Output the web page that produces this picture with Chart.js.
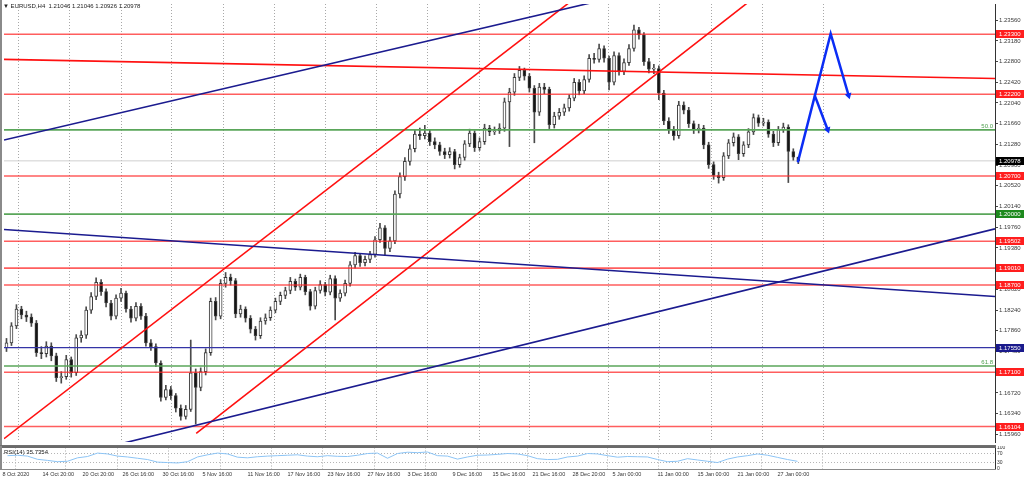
<!DOCTYPE html>
<html>
<head>
<meta charset="utf-8">
<script src="https://cdn.jsdelivr.net/npm/chart.js@4/dist/chart.umd.min.js"></script>
<style>
  body { margin: 0; background: #fff; width: 1024px; height: 480px; overflow: hidden; position: relative; }
  canvas { position: absolute; left: 0; }
  #mainChart { top: 0; }
  #rsiChart { top: 446px; }
  .lbl { position: absolute; font-family: 'Liberation Sans', Arial, sans-serif; font-size: 6px; color: #222; white-space: pre; }
</style>
</head>
<body>
<canvas id="mainChart" width="1024" height="446"></canvas>
<canvas id="rsiChart" width="1024" height="34"></canvas>
<div class="lbl" style="left:3px;top:3px">▼ EURUSD,H4  1.21046 1.21046 1.20926 1.20978</div>
<div class="lbl" style="left:4px;top:449px">RSI(14) 35.7354</div>
<script>
// EURUSD H4, one candle per slot
const opens = [
  1.1755, 1.1764, 1.1795, 1.1826, 1.1815, 1.1811, 1.1800, 1.1746, 1.1744, 1.1758,
  1.1740, 1.1700, 1.1702, 1.1733, 1.1709, 1.1773, 1.1778, 1.1824, 1.1849, 1.1875,
  1.1858, 1.1837, 1.1813, 1.1846, 1.1855, 1.1826, 1.1809, 1.1831, 1.1813, 1.1764,
  1.1757, 1.1727, 1.1664, 1.1678, 1.1667, 1.1644, 1.1629, 1.1642, 1.1709, 1.1682,
  1.1711, 1.1746, 1.1840, 1.1813, 1.1873, 1.1884, 1.1878, 1.1817, 1.1826, 1.1809,
  1.1789, 1.1777, 1.1804, 1.1810, 1.1824, 1.1840, 1.1851, 1.1860, 1.1877, 1.1866,
  1.1884, 1.1858, 1.1831, 1.1860, 1.1871, 1.1857, 1.1882, 1.1846, 1.1855, 1.1873,
  1.1907, 1.1924, 1.1911, 1.1917, 1.1926, 1.1953, 1.1975, 1.1937, 1.1951, 1.2037,
  1.2069, 1.2097, 1.2120, 1.2147, 1.2144, 1.2149, 1.2133, 1.2127, 1.2115, 1.2109,
  1.2115, 1.2091, 1.2104, 1.2129, 1.2149, 1.2122, 1.2133, 1.2158, 1.2151, 1.2153,
  1.2158, 1.2206, 1.2224, 1.2251, 1.2264, 1.2253, 1.2231, 1.2187, 1.2233, 1.2229,
  1.2164, 1.2180, 1.2187, 1.2195, 1.2213, 1.2242, 1.2226, 1.2247, 1.2286, 1.2284,
  1.2304, 1.2286, 1.2242, 1.2291, 1.2262, 1.2278, 1.2304, 1.2338, 1.2329, 1.2280,
  1.2266, 1.2267, 1.2222, 1.2171, 1.2155, 1.2144, 1.2200, 1.2191, 1.2166, 1.2155,
  1.2158, 1.2127, 1.2091, 1.2071, 1.2067, 1.2107, 1.2131, 1.2142, 1.2111, 1.2127,
  1.2151, 1.2177, 1.2167, 1.2169, 1.2147, 1.2131, 1.2155, 1.2160, 1.2115, 1.21046
];
const highs = [
  1.1772, 1.1801, 1.1834, 1.1831, 1.1822, 1.1817, 1.1805, 1.1757, 1.1766, 1.1764,
  1.1745, 1.1711, 1.1741, 1.1738, 1.1779, 1.1786, 1.1830, 1.1856, 1.1883, 1.1880,
  1.1863, 1.1842, 1.1852, 1.1864, 1.1859, 1.1831, 1.1838, 1.1836, 1.1818, 1.1770,
  1.1762, 1.1731, 1.1686, 1.1684, 1.1671, 1.1650, 1.1649, 1.1769, 1.1716, 1.1718,
  1.1753, 1.1846, 1.1847, 1.1880, 1.1893, 1.1890, 1.1882, 1.1833, 1.1830, 1.1814,
  1.1794, 1.1810, 1.1817, 1.1830, 1.1846, 1.1857, 1.1866, 1.1884, 1.1881, 1.1890,
  1.1888, 1.1862, 1.1866, 1.1878, 1.1875, 1.1888, 1.1887, 1.1861, 1.1879, 1.1913,
  1.1930, 1.1928, 1.1923, 1.1932, 1.1959, 1.1983, 1.1979, 1.1958, 1.2043, 1.2076,
  1.2104, 1.2127, 1.2155, 1.2158, 1.2163, 1.2154, 1.2140, 1.2132, 1.2121, 1.2122,
  1.2119, 1.2110, 1.2135, 1.2156, 1.2153, 1.2140, 1.2165, 1.2163, 1.2160, 1.2166,
  1.2213, 1.2231, 1.2258, 1.2271, 1.2268, 1.2258, 1.2236, 1.2240, 1.2240, 1.2233,
  1.2187, 1.2194, 1.2202, 1.2219, 1.2249, 1.2247, 1.2254, 1.2293, 1.2295, 1.2312,
  1.2309, 1.2290, 1.2298, 1.2296, 1.2285, 1.2311, 1.2347, 1.2343, 1.2333, 1.2286,
  1.2275, 1.2272, 1.2227, 1.2177, 1.2161, 1.2207, 1.2206, 1.2196, 1.2171, 1.2165,
  1.2163, 1.2132, 1.2096, 1.2077, 1.2113, 1.2137, 1.2149, 1.2146, 1.2133, 1.2157,
  1.2184, 1.2182, 1.2176, 1.2173, 1.2152, 1.2161, 1.2167, 1.2164, 1.2120, 1.21046
];
const lows = [
  1.1748, 1.1759, 1.1790, 1.1808, 1.1803, 1.1794, 1.1739, 1.1735, 1.1738, 1.1731,
  1.1693, 1.1690, 1.1697, 1.1701, 1.1704, 1.1765, 1.1772, 1.1818, 1.1843, 1.1851,
  1.1830, 1.1806, 1.1808, 1.1840, 1.1820, 1.1802, 1.1804, 1.1807, 1.1758, 1.1750,
  1.1720, 1.1657, 1.1659, 1.1660, 1.1637, 1.1622, 1.1624, 1.1638, 1.1615, 1.1676,
  1.1705, 1.1741, 1.1806, 1.1808, 1.1866, 1.1870, 1.1810, 1.1811, 1.1802, 1.1782,
  1.1769, 1.1772, 1.1798, 1.1805, 1.1819, 1.1834, 1.1845, 1.1854, 1.1860, 1.1861,
  1.1852, 1.1824, 1.1826, 1.1855, 1.1850, 1.1852, 1.1806, 1.1840, 1.1850, 1.1868,
  1.1901, 1.1904, 1.1905, 1.1911, 1.1921, 1.1948, 1.1924, 1.1931, 1.1946, 1.2030,
  1.2062, 1.2090, 1.2114, 1.2137, 1.2138, 1.2126, 1.2120, 1.2108, 1.2102, 1.2103,
  1.2083, 1.2086, 1.2099, 1.2124, 1.2115, 1.2117, 1.2128, 1.2144, 1.2146, 1.2148,
  1.2152, 1.2124, 1.2218, 1.2245, 1.2246, 1.2224, 1.2131, 1.2181, 1.2221, 1.2157,
  1.2158, 1.2174, 1.2181, 1.2189, 1.2208, 1.2219, 1.2221, 1.2242, 1.2277, 1.2279,
  1.2279, 1.2228, 1.2237, 1.2255, 1.2256, 1.2273, 1.2299, 1.2321, 1.2273, 1.2259,
  1.2258, 1.2210, 1.2164, 1.2148, 1.2136, 1.2139, 1.2184, 1.2159, 1.2148, 1.2149,
  1.2120, 1.2084, 1.2064, 1.2057, 1.2062, 1.2102, 1.2125, 1.2100, 1.2106, 1.2122,
  1.2146, 1.2161, 1.2162, 1.2141, 1.2124, 1.2126, 1.2150, 1.2058, 1.2099, 1.20926
];
const closes = [
  1.1764, 1.1795, 1.1826, 1.1815, 1.1811, 1.1800, 1.1746, 1.1744, 1.1758, 1.1740,
  1.1700, 1.1702, 1.1733, 1.1709, 1.1773, 1.1778, 1.1824, 1.1849, 1.1875, 1.1858,
  1.1837, 1.1813, 1.1846, 1.1855, 1.1826, 1.1809, 1.1831, 1.1813, 1.1764, 1.1757,
  1.1727, 1.1664, 1.1678, 1.1667, 1.1644, 1.1629, 1.1642, 1.1709, 1.1682, 1.1711,
  1.1746, 1.1840, 1.1813, 1.1873, 1.1884, 1.1878, 1.1817, 1.1826, 1.1809, 1.1789,
  1.1777, 1.1804, 1.1810, 1.1824, 1.1840, 1.1851, 1.1860, 1.1877, 1.1866, 1.1884,
  1.1858, 1.1831, 1.1860, 1.1871, 1.1857, 1.1882, 1.1846, 1.1855, 1.1873, 1.1907,
  1.1924, 1.1911, 1.1917, 1.1926, 1.1953, 1.1975, 1.1937, 1.1951, 1.2037, 1.2069,
  1.2097, 1.2120, 1.2147, 1.2144, 1.2149, 1.2133, 1.2127, 1.2115, 1.2109, 1.2115,
  1.2091, 1.2104, 1.2129, 1.2149, 1.2122, 1.2133, 1.2158, 1.2151, 1.2153, 1.2158,
  1.2206, 1.2224, 1.2251, 1.2264, 1.2253, 1.2231, 1.2187, 1.2233, 1.2229, 1.2164,
  1.2180, 1.2187, 1.2195, 1.2213, 1.2242, 1.2226, 1.2247, 1.2286, 1.2284, 1.2304,
  1.2286, 1.2242, 1.2291, 1.2262, 1.2278, 1.2304, 1.2338, 1.2329, 1.2280, 1.2266,
  1.2267, 1.2222, 1.2171, 1.2155, 1.2144, 1.2200, 1.2191, 1.2166, 1.2155, 1.2158,
  1.2127, 1.2091, 1.2071, 1.2067, 1.2107, 1.2131, 1.2142, 1.2111, 1.2127, 1.2151,
  1.2177, 1.2167, 1.2169, 1.2147, 1.2131, 1.2155, 1.2160, 1.2115, 1.21046, 1.20978
];

// RSI(14), one reading every second candle (odd slots)
const rsi = [
  62, 64, 60, 45, 40, 34, 36, 52, 58, 74,
  70, 60, 56, 50, 44, 32, 30, 28, 34, 56,
  66, 74, 70, 55, 52, 57, 60, 62, 64, 66,
  60, 57, 62, 59, 58, 64, 72, 74, 50, 72,
  78, 76, 79, 62, 60, 46, 56, 64, 65, 68,
  72, 70, 62, 48, 44, 45, 56, 60, 72, 70,
  62, 55, 58, 57, 56, 44, 34, 36, 48, 42,
  36, 30, 46, 56, 62, 70, 64, 54, 44, 35.7354
];

const timeLabels = ['8 Oct 2020', '14 Oct 20:00', '20 Oct 20:00', '26 Oct 16:00', '30 Oct 16:00',
  '5 Nov 16:00', '11 Nov 16:00', '17 Nov 16:00', '23 Nov 16:00', '27 Nov 16:00',
  '3 Dec 16:00', '9 Dec 16:00', '15 Dec 16:00', '21 Dec 16:00', '28 Dec 20:00',
  '5 Jan 00:00', '11 Jan 00:00', '15 Jan 00:00', '21 Jan 00:00', '27 Jan 00:00'];
const timeLabelSlots = [0, 8, 16, 24, 32, 40, 49, 57, 65, 73, 81, 90, 98, 106, 114, 122, 131, 139, 147, 155];
const gridSlots = [2.5, 12.7, 23, 33.2, 43.5, 53.8, 64, 74.3, 84.6, 94.9, 105.1, 120.9, 131.2, 141.5, 151.8, 164];

const priceTicks = [1.15960, 1.16340, 1.16720, 1.17100, 1.17480, 1.17860, 1.18240, 1.18620, 1.19000,
  1.19380, 1.19760, 1.20140, 1.20520, 1.20900, 1.21280, 1.21660, 1.22040, 1.22420, 1.22800,
  1.23180, 1.23560];
const rsiTicks = [0, 30, 70, 100];

// drawn objects
const redLevels = [1.23300, 1.22200, 1.20700, 1.19502, 1.19010, 1.18700, 1.17100, 1.16104];
const greenLevels = [1.20000];
const blueLevels = [1.17550];
const fibLevels = [1.21547, 1.17215];
const fibNames = ['50.0', '61.8'];
const lastPrice = 1.20978;

// [slot1, price1, slot2, price2]
const blueTrends = [[-0.5, 1.2136, 139.5, 1.2435], [-0.5, 1.1972, 198.5, 1.1849], [19.5, 1.1571, 198.5, 1.1973]];
const redTrends = [[-0.5, 1.2284, 198.5, 1.2249], [-0.5, 1.1588, 119.5, 1.2434], [38.1, 1.1598, 151.5, 1.2407]];
const arrowMain = [[158.9, 1.2095], [165.5, 1.2331], [169.1, 1.2218]];
const arrowSmall = [[162.3, 1.2218], [164.9, 1.2155]];

const totalSlots = 199;
const xMin = -0.5, xMax = totalSlots - 0.5;

function hline(v, color, width, order) {
  return {
    type: 'line', data: [{x: xMin, y: v}, {x: xMax, y: v}],
    borderColor: color, borderWidth: width, pointRadius: 0, order: order
  };
}
function trend(t, color, width) {
  return {
    type: 'line', data: [{x: t[0], y: t[1]}, {x: t[2], y: t[3]}],
    borderColor: color, borderWidth: width, pointRadius: 0, order: 2
  };
}
function arrow(pts, angle) {
  const n = pts.length;
  return {
    type: 'line', data: pts.map(p => ({x: p[0], y: p[1]})),
    borderColor: '#0b2df5', backgroundColor: '#0b2df5', borderWidth: 2.5,
    pointStyle: 'triangle',
    pointRadius: pts.map((p, i) => i === n - 1 ? 4 : 0),
    pointRotation: pts.map((p, i) => i === n - 1 ? angle : 0),
    pointBorderWidth: 0, order: 0
  };
}

const frame = {
  id: 'frame',
  afterDraw(chart) {
    const ctx = chart.ctx, a = chart.chartArea, y = chart.scales.y;
    ctx.save();
    if (chart.canvas.id === 'mainChart') {
      ctx.fillStyle = '#8a8a8a';
      ctx.fillRect(0, 0, 2, 446);
      ctx.fillStyle = '#707070';
      ctx.fillRect(0, 445, a.right + 1, 1);
      const box = (v, bg) => {
        const py = Math.round(y.getPixelForValue(v));
        ctx.fillStyle = bg;
        ctx.fillRect(a.right + 1, py - 4, 1024 - a.right, 8);
        ctx.fillStyle = '#fff';
        ctx.font = '6px "Liberation Sans"';
        ctx.textBaseline = 'middle';
        ctx.textAlign = 'left';
        ctx.fillText(v.toFixed(5), a.right + 4, py + 0.5);
      };
      redLevels.forEach(v => box(v, '#ff1e1e'));
      greenLevels.forEach(v => box(v, '#1d8a1d'));
      blueLevels.forEach(v => box(v, '#1a1a8c'));
      box(lastPrice, '#000');
      ctx.fillStyle = '#4d9d4d';
      ctx.font = '6px "Liberation Sans"';
      ctx.textAlign = 'right';
      ctx.textBaseline = 'bottom';
      fibLevels.forEach((v, i) => ctx.fillText(fibNames[i], a.right - 2, y.getPixelForValue(v) - 1));
    } else {
      ctx.fillStyle = '#6a6a6a';
      ctx.fillRect(0, 0, a.right + 1, 2);
      ctx.fillStyle = '#8a8a8a';
      ctx.fillRect(0, a.bottom, a.right + 1, 1);
      ctx.fillRect(0, 0, 2, a.bottom);
    }
    ctx.restore();
  }
};

function gridAxis() {
  return {
    type: 'linear', min: xMin, max: xMax, offset: false,
    afterBuildTicks(s) { s.ticks = gridSlots.map(v => ({value: v})); },
    afterFit(s) { s.height = 0; s.paddingLeft = 0; s.paddingRight = 0; },
    ticks: {display: false},
    grid: {color: '#a8a8a8', lineWidth: 1, drawTicks: false, offset: false},
    border: {display: false, dash: [1, 2]}
  };
}

const bodyColors = closes.map((c, i) => c >= opens[i] ? '#ffffff' : '#151515');

new Chart(document.getElementById('mainChart'), {
  type: 'bar',
  data: {
    datasets: [
      {
        data: lows.map((l, i) => ({x: i, y: [l, highs[i]]})),
        backgroundColor: '#4a4a4a', barThickness: 1, grouped: false, order: 21
      },
      {
        data: opens.map((o, i) => ({x: i, y: [o, closes[i]]})),
        backgroundColor: bodyColors, borderColor: '#3c3c3c', borderWidth: 1,
        borderSkipped: false, barThickness: 3, minBarLength: 1, grouped: false, order: 20
      },
      hline(lastPrice, '#cfcfcf', 1, 30),
      ...redLevels.map(v => hline(v, 'rgba(255,40,40,0.75)', 1.6, 5)),
      ...greenLevels.concat(fibLevels).map(v => hline(v, '#5aa65a', 1.6, 5)),
      ...blueLevels.map(v => hline(v, '#3434a6', 1.2, 5)),
      ...blueTrends.map(t => trend(t, '#1b1b8f', 1.6)),
      ...redTrends.map(t => trend(t, '#ff1010', 1.6)),
      arrow(arrowMain, 164),
      arrow(arrowSmall, 160)
    ]
  },
  options: {
    responsive: false, animation: false, devicePixelRatio: 1, events: [],
    layout: {padding: {top: 3, bottom: 1, left: 0, right: 0}},
    plugins: {legend: {display: false}, tooltip: {enabled: false}},
    scales: {
      x: gridAxis(),
      y: {
        type: 'linear', position: 'right', min: 1.15820, max: 1.23856,
        afterBuildTicks(s) { s.ticks = priceTicks.map(v => ({value: v})); },
        afterFit(s) { s.width = 29; s.paddingTop = 0; s.paddingBottom = 0; },
        ticks: {
          autoSkip: false, padding: 1, color: '#3a3a3a',
          font: {family: 'Liberation Sans', size: 6},
          callback: v => v.toFixed(5)
        },
        grid: {drawOnChartArea: false, drawTicks: true, tickLength: 3, tickColor: '#444'},
        border: {color: '#333', width: 1}
      }
    }
  },
  plugins: [frame]
});

new Chart(document.getElementById('rsiChart'), {
  type: 'line',
  data: {
    datasets: [{
      data: rsi.map((v, k) => ({x: 2 * k + 1, y: v})),
      borderColor: '#8cc4f5', borderWidth: 1, pointRadius: 0, tension: 0
    }]
  },
  options: {
    responsive: false, animation: false, devicePixelRatio: 1, events: [],
    layout: {padding: {top: 1.5, bottom: 0, left: 0, right: 0}},
    plugins: {legend: {display: false}, tooltip: {enabled: false}},
    scales: {
      x: {
        type: 'linear', min: xMin, max: xMax, offset: false,
        afterBuildTicks(s) { s.ticks = timeLabelSlots.map(v => ({value: v})); },
        afterFit(s) { s.height = 11; s.paddingLeft = 0; s.paddingRight = 0; },
        ticks: {
          autoSkip: false, maxRotation: 0, align: 'start', padding: 2, color: '#333',
          font: {family: 'Liberation Sans', size: 5.5},
          callback: (v, i) => timeLabels[i]
        },
        grid: {display: false, drawTicks: false},
        border: {display: false}
      },
      xg: gridAxis(),
      y: {
        type: 'linear', position: 'right', min: 0, max: 100,
        afterBuildTicks(s) { s.ticks = rsiTicks.map(v => ({value: v})); },
        afterFit(s) { s.width = 29; s.paddingTop = 0; s.paddingBottom = 0; },
        ticks: {autoSkip: false, padding: 2, color: '#333', font: {family: 'Liberation Sans', size: 5}},
        grid: {
          drawTicks: false,
          color: c => (c.tick && (c.tick.value === 30 || c.tick.value === 70)) ? '#b5b5b5' : 'rgba(0,0,0,0)'
        },
        border: {color: '#333', width: 1, dash: [1, 2]}
      }
    }
  },
  plugins: [frame]
});
</script>
</body>
</html>
